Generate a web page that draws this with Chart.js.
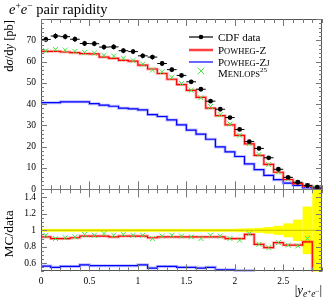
<!DOCTYPE html>
<html>
<head>
<meta charset="utf-8">
<script src="https://cdn.jsdelivr.net/npm/chart.js@4"></script>
<style>
html, body { margin: 0; padding: 0; background: #fff; }
#wrap { width: 332px; height: 300px; }
</style>
</head>
<body>
<div id="wrap"><canvas id="chart" width="332" height="300"></canvas></div>
<script>
// |y_ee| bins, width 0.1
const binLo = [0.0, 0.1, 0.2, 0.3, 0.4, 0.5, 0.6, 0.7, 0.8, 0.9, 1.0, 1.1, 1.2, 1.3, 1.4,
               1.5, 1.6, 1.7, 1.8, 1.9, 2.0, 2.1, 2.2, 2.3, 2.4, 2.5, 2.6, 2.7, 2.8];
const binHi = [0.1, 0.2, 0.3, 0.4, 0.5, 0.6, 0.7, 0.8, 0.9, 1.0, 1.1, 1.2, 1.3, 1.4, 1.5,
               1.6, 1.7, 1.8, 1.9, 2.0, 2.1, 2.2, 2.3, 2.4, 2.5, 2.6, 2.7, 2.8, 2.9];

// dsigma/dy [pb]
const cdfData  = [70.4, 72.0, 71.7, 70.5, 68.5, 68.4, 66.8, 66.9, 65.1, 64.7, 62.7, 62.1, 59.1, 56.2, 53.5,
                  50.5, 47.0, 41.4, 37.6, 33.7, 28.1, 22.4, 19.2, 14.8, 9.4, 5.6, 3.3, 1.8, 1.0];
// relative data uncertainty (yellow band)
const cdfRelErr = [0.018, 0.018, 0.018, 0.018, 0.018, 0.018, 0.018, 0.018, 0.018, 0.018, 0.018, 0.018, 0.018, 0.018, 0.018,
                   0.018, 0.018, 0.018, 0.018, 0.018, 0.022, 0.025, 0.03, 0.04, 0.055, 0.085, 0.13, 0.29, 0.8];
const powhegZ  = [64.8, 64.8, 64.5, 64.2, 63.7, 63.6, 62.1, 61.5, 60.6, 60.2, 58.3, 56.5, 54.4, 51.7, 49.2,
                  46.5, 43.2, 38.1, 34.6, 30.3, 25.3, 21.3, 15.9, 11.7, 8.0, 4.6, 2.7, 1.5, 0];
const powhegZj = [40.7, 40.7, 41.1, 41.1, 41.1, 40.2, 39.5, 39.0, 38.1, 37.8, 37.3, 35.1, 34.2, 32.6, 30.3,
                  27.8, 25.9, 23.5, 19.9, 17.6, 15.4, 11.9, 9.2, 6.5, 4.5, 2.9, 1.8, 0.8, 0.3];
const menlops  = [65.1, 65.7, 65.4, 64.8, 64.3, 64.0, 62.9, 62.6, 61.6, 60.5, 58.8, 56.0, 55.2, 52.6, 49.7,
                  46.5, 43.0, 38.9, 35.1, 30.7, 25.4, 21.4, 16.4, 11.6, 8.1, 4.8, 3.2, 1.8, 0.6];

// MC/data
const ratioPowhegZ  = [0.92, 0.90, 0.90, 0.91, 0.93, 0.93, 0.93, 0.92, 0.93, 0.93, 0.93, 0.91, 0.92, 0.92, 0.92,
                       0.92, 0.92, 0.92, 0.92, 0.90, 0.90, 0.95, 0.83, 0.79, 0.85, 0.82, 0.82, 0.86, 0];
const ratioPowhegZj = [0.565, 0.55, 0.56, 0.56, 0.58, 0.57, 0.57, 0.57, 0.57, 0.57, 0.58, 0.54, 0.56, 0.56, 0.55,
                       0.55, 0.54, 0.55, 0.52, 0.52, 0.51, 0.51, null, null, null, null, null, null, null];
const ratioMenlops  = [0.94, 0.90, 0.91, 0.92, 0.95, 0.94, 0.96, 0.94, 0.95, 0.94, 0.94, 0.90, 0.93, 0.94, 0.93,
                       0.92, 0.90, 0.94, 0.93, 0.90, 0.88, 0.96, 0.83, 0.79, 0.85, 0.82, 0.81, 0.90, null];

const xTicks = [0, 0.5, 1, 1.5, 2, 2.5];
const yTicks = [0, 10, 20, 30, 40, 50, 60, 70];
const ratioTicks = [0.6, 0.8, 1, 1.2, 1.4];

const SERIF = "'Liberation Serif', 'DejaVu Serif', serif";
Chart.defaults.font.family = SERIF;
Chart.defaults.color = '#000';

// histogram as a list of points, two per bin
function stepPoints(vals) {
    let pts = [];
    for (let i = 0; i < vals.length; i++) {
        pts.push({x: binLo[i], y: vals[i]});
        pts.push({x: binHi[i], y: vals[i]});
    }
    return pts;
}
function centerPoints(vals) {
    return vals.map((v, i) => ({x: (binLo[i] + binHi[i]) / 2, y: v}));
}

function histo(vals, axis, color, width) {
    return {
        type: 'line', data: stepPoints(vals), yAxisID: axis,
        borderColor: color, borderWidth: width, pointRadius: 0, fill: false, tension: 0
    };
}
function crosses(vals, axis) {
    return {
        type: 'line', data: centerPoints(vals), yAxisID: axis, showLine: false,
        pointStyle: 'crossRot', pointRadius: 3.5, borderColor: '#3fe63f', borderWidth: 1
    };
}

// yellow band, data error bars
const dataDeco = {
    id: 'dataDeco',
    beforeDatasetsDraw(chart) {
        const ctx = chart.ctx;
        const x = chart.scales.x, r = chart.scales.yRatio;
        ctx.save();
        ctx.beginPath();
        ctx.rect(x.left, r.top, x.right - x.left, r.bottom - r.top);
        ctx.clip();
        ctx.fillStyle = '#ffff00';
        for (let i = 0; i < binLo.length; i++) {
            let x0 = x.getPixelForValue(binLo[i]), x1 = x.getPixelForValue(binHi[i]);
            let yt = r.getPixelForValue(1 + cdfRelErr[i]), yb = r.getPixelForValue(1 - cdfRelErr[i]);
            ctx.fillRect(x0, yt, x1 - x0, yb - yt);
        }
        ctx.strokeStyle = '#cccc00';
        ctx.lineWidth = 1.2;
        ctx.beginPath();
        ctx.moveTo(x.left, r.getPixelForValue(1));
        ctx.lineTo(x.right, r.getPixelForValue(1));
        ctx.stroke();
        ctx.restore();
    },
    afterDatasetsDraw(chart) {
        const ctx = chart.ctx;
        const x = chart.scales.x, y = chart.scales.y;
        ctx.save();
        ctx.strokeStyle = '#000';
        ctx.lineWidth = 1;
        for (let i = 0; i < cdfData.length; i++) {
            let cx = x.getPixelForValue((binLo[i] + binHi[i]) / 2), cy = y.getPixelForValue(cdfData[i]);
            let err = cdfData[i] * cdfRelErr[i];
            ctx.beginPath();
            ctx.moveTo(x.getPixelForValue(binLo[i]), cy);
            ctx.lineTo(x.getPixelForValue(binHi[i]), cy);
            ctx.moveTo(cx, y.getPixelForValue(Math.max(cdfData[i] - err, 0)));
            ctx.lineTo(cx, y.getPixelForValue(cdfData[i] + err));
            ctx.stroke();
        }
        ctx.restore();
    }
};

// draw text pieces: [text, font, dy]
function drawPieces(ctx, x, y, pieces) {
    for (let p of pieces) {
        ctx.font = p[1];
        ctx.fillText(p[0], x, y + (p[2] || 0));
        x += ctx.measureText(p[0]).width;
    }
    return x;
}
function piecesWidth(ctx, pieces) {
    let w = 0;
    for (let p of pieces) { ctx.font = p[1]; w += ctx.measureText(p[0]).width; }
    return w;
}

// frame, inward ticks, labels, legend
const frame = {
    id: 'frame',
    afterDraw(chart) {
        const ctx = chart.ctx;
        const x = chart.scales.x, y = chart.scales.y, r = chart.scales.yRatio;
        const L = x.left, R = x.right;
        const yTop = y.top, yBot = y.getPixelForValue(0), rBot = r.bottom;
        ctx.save();
        ctx.lineWidth = 1;
        ctx.strokeStyle = '#555';
        ctx.strokeRect(Math.round(L) + 0.5, Math.round(yTop) + 0.5, Math.round(R - L) - 1, Math.round(rBot - yTop) - 1);
        ctx.strokeStyle = '#777';
        ctx.beginPath();
        ctx.moveTo(L, Math.round(yBot) + 0.5); ctx.lineTo(R, Math.round(yBot) + 0.5);
        ctx.stroke();

        ctx.beginPath();
        // x ticks
        for (let k = 0; k <= 29; k++) {
            let v = k / 10, px = Math.round(x.getPixelForValue(v)) + 0.5;
            let major = (k % 5 === 0);
            let len = major ? 7 : 4;
            ctx.moveTo(px, yTop); ctx.lineTo(px, yTop + len);
            ctx.moveTo(px, yBot - len - (major ? 1 : 0)); ctx.lineTo(px, yBot + len + (major ? 1 : 0));
            ctx.moveTo(px, rBot); ctx.lineTo(px, rBot - len);
        }
        // main y ticks
        for (let v = 0; v <= 80; v += 2) {
            let py = Math.round(y.getPixelForValue(v)) + 0.5;
            let len = (v % 10 === 0) ? 6 : 3;
            ctx.moveTo(L, py); ctx.lineTo(L + len, py);
            ctx.moveTo(R, py); ctx.lineTo(R - len, py);
        }
        // ratio ticks
        for (let k = 10; k <= 30; k++) {
            let v = k / 20, py = Math.round(r.getPixelForValue(v)) + 0.5;
            let len = (k % 4 === 0) ? 6 : 3;
            ctx.moveTo(L, py); ctx.lineTo(L + len, py);
            ctx.moveTo(R, py); ctx.lineTo(R - len, py);
        }
        ctx.stroke();

        ctx.fillStyle = '#000';
        ctx.textBaseline = 'alphabetic';
        ctx.textAlign = 'left';
        // title
        drawPieces(ctx, 9, 13.5, [
            ['e', 'italic 14.5px ' + SERIF], ['+', '9.5px ' + SERIF, -5],
            ['e', 'italic 14.5px ' + SERIF], ['\u2212', '9.5px ' + SERIF, -5],
            [' pair rapidity', '14.5px ' + SERIF]
        ]);
        // x axis label
        let xl = [
            ['|', '13px ' + SERIF], ['y', 'italic 13px ' + SERIF],
            ['e', 'italic 9.5px ' + SERIF, 3], ['+', '7px ' + SERIF, -0.5],
            ['e', 'italic 9.5px ' + SERIF, 3], ['\u2212', '7px ' + SERIF, -0.5],
            ['|', '13px ' + SERIF]
        ];
        drawPieces(ctx, R - piecesWidth(ctx, xl), 294, xl);

        // y axis labels
        ctx.save();
        ctx.translate(12.5, 20);
        ctx.rotate(-Math.PI / 2);
        let yl = [['d', '12.5px ' + SERIF], ['\u03c3', 'italic 12.5px ' + SERIF], ['/d', '12.5px ' + SERIF],
                  ['y', 'italic 12.5px ' + SERIF], [' [pb]', '12.5px ' + SERIF]];
        drawPieces(ctx, -piecesWidth(ctx, yl), 0, yl);
        ctx.restore();
        ctx.save();
        ctx.translate(12.5, 234);
        ctx.rotate(-Math.PI / 2);
        ctx.font = '13.5px ' + SERIF;
        ctx.textAlign = 'center';
        ctx.fillText('MC/data', 0, 0);
        ctx.restore();

        // legend
        const lx0 = 189, lx1 = 213, tx = 218;
        const rows = [37, 50, 62, 73];
        ctx.lineWidth = 1.2;
        ctx.strokeStyle = '#000';
        ctx.beginPath(); ctx.moveTo(lx0, rows[0]); ctx.lineTo(lx1, rows[0]); ctx.stroke();
        ctx.beginPath(); ctx.arc((lx0 + lx1) / 2, rows[0], 2.3, 0, Math.PI * 2); ctx.fill();
        ctx.strokeStyle = 'rgba(255,90,90,0.6)'; ctx.lineWidth = 3;
        ctx.beginPath(); ctx.moveTo(lx0, rows[1]); ctx.lineTo(lx1, rows[1]); ctx.stroke();
        ctx.strokeStyle = '#ff0000'; ctx.lineWidth = 1.2;
        ctx.beginPath(); ctx.moveTo(lx0, rows[1]); ctx.lineTo(lx1, rows[1]); ctx.stroke();
        ctx.strokeStyle = '#0000ff';
        ctx.beginPath(); ctx.moveTo(lx0, rows[2]); ctx.lineTo(lx1, rows[2]); ctx.stroke();
        ctx.strokeStyle = '#3fe63f'; ctx.lineWidth = 1;
        let gx = (lx0 + lx1) / 2, gy = rows[3] - 2, s = 3.2;
        ctx.beginPath();
        ctx.moveTo(gx - s, gy - s); ctx.lineTo(gx + s, gy + s);
        ctx.moveTo(gx - s, gy + s); ctx.lineTo(gx + s, gy - s);
        ctx.stroke();

        const big = '11px ' + SERIF, sc = '8.5px ' + SERIF;
        drawPieces(ctx, tx, rows[0] + 4, [['CDF data', big]]);
        drawPieces(ctx, tx, rows[1] + 4, [['P', big], ['OWHEG', sc], ['-Z', big]]);
        drawPieces(ctx, tx, rows[2] + 4, [['P', big], ['OWHEG', sc], ['-Z', big], ['J', sc]]);
        drawPieces(ctx, tx, rows[3] + 4, [['M', big], ['ENLOPS', sc], ['25', '7px ' + SERIF, -5]]);
        ctx.restore();
    }
};

const ctxChart = document.getElementById('chart');
const chart = new Chart(ctxChart, {
    type: 'line',
    data: {
        datasets: [
            {
                type: 'line', data: centerPoints(cdfData), yAxisID: 'y', showLine: false,
                pointRadius: 2.4, pointBackgroundColor: '#000', pointBorderColor: '#000', pointBorderWidth: 0
            },
            crosses(menlops, 'y'),
            crosses(ratioMenlops, 'yRatio'),
            histo(powhegZ, 'y', '#ff0000', 1.2),
            histo(powhegZ, 'y', 'rgba(255,90,90,0.45)', 3),
            histo(ratioPowhegZ, 'yRatio', '#ff0000', 1.2),
            histo(ratioPowhegZ, 'yRatio', 'rgba(255,90,90,0.45)', 3),
            histo(powhegZj, 'y', '#0000ff', 1.2),
            histo(powhegZj, 'y', 'rgba(90,90,255,0.4)', 3),
            histo(ratioPowhegZj, 'yRatio', '#0000ff', 1.2),
            histo(ratioPowhegZj, 'yRatio', 'rgba(90,90,255,0.4)', 3)
        ]
    },
    options: {
        responsive: false,
        animation: false,
        events: [],
        layout: { padding: { top: 19, right: 10, bottom: 0, left: 0 } },
        plugins: { legend: { display: false }, tooltip: { enabled: false } },
        scales: {
            x: {
                type: 'linear', position: 'bottom', min: 0, max: 2.9,
                grid: { display: false, drawTicks: false }, border: { display: false },
                afterBuildTicks: (s) => { s.ticks = xTicks.map(v => ({value: v})); },
                afterFit: (s) => { s.height = 28.6; },
                ticks: { autoSkip: false, maxRotation: 0, padding: 4, font: { size: 9.5 }, callback: (v) => String(v) }
            },
            yRatio: {
                type: 'linear', position: 'left', stack: 'panels', stackWeight: 81.5,
                min: 0.5, max: 1.5,
                grid: { display: false, drawTicks: false }, border: { display: false },
                afterBuildTicks: (s) => { s.ticks = ratioTicks.map(v => ({value: v})); },
                afterFit: (s) => { s.width = 41; },
                ticks: { autoSkip: false, padding: 5, font: { size: 9.5 }, callback: (v) => String(v) }
            },
            y: {
                type: 'linear', position: 'left', stack: 'panels', stackWeight: 169,
                min: 0, max: 80,
                grid: { display: false, drawTicks: false }, border: { display: false },
                afterBuildTicks: (s) => { s.ticks = yTicks.map(v => ({value: v})); },
                afterFit: (s) => { s.width = 41; },
                ticks: { autoSkip: false, padding: 5, font: { size: 9.5 }, callback: (v) => String(v) }
            }
        }
    },
    plugins: [dataDeco, frame]
});
</script>
</body>
</html>
